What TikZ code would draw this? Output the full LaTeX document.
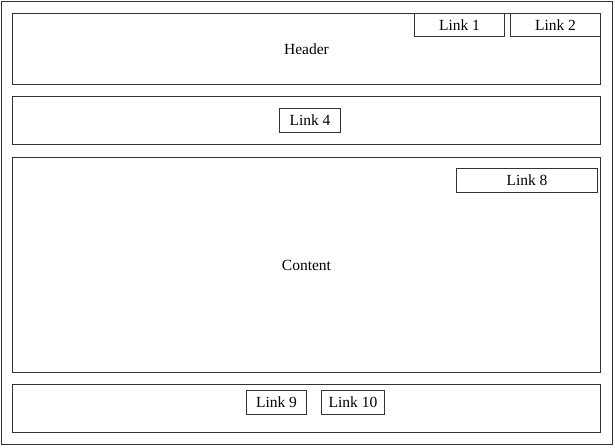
\documentclass[tikz,border=0pt]{standalone}
\usepackage{fontspec}
\setmainfont{Liberation Serif}
\begin{document}
\begin{tikzpicture}[x=1pt,y=-1pt,
  frame/.style={draw=black!80, line width=1pt, fill=white, anchor=north west,
    inner sep=0pt, font=\fontsize{15.5}{18}\selectfont, text=black}]
\useasboundingbox (0,0) rectangle (615,447);
\fill[white] (0,0) rectangle (615,447);

% page frame
\node[frame, minimum width=611pt, minimum height=443pt] (page) at (1,1) {};

% header band
\node[frame, minimum width=588pt, minimum height=71pt] (header) at (12,13) {Header};
\node[frame, minimum width=90pt, minimum height=23pt] (link1) at (414,13) {Link 1};
\node[frame, minimum width=90pt, minimum height=23pt] (link2) at (510,13) {Link 2};

% navigation band
\node[frame, minimum width=588pt, minimum height=48pt] (nav) at (12,96) {};
\node[frame, minimum width=61pt, minimum height=24pt] (link4) at (279,108) {Link 4};

% content area
\node[frame, minimum width=588pt, minimum height=215pt] (content) at (12,157) {Content};
\node[frame, minimum width=141pt, minimum height=24pt] (link8) at (456,168) {Link 8};

% footer band
\node[frame, minimum width=588pt, minimum height=48pt] (footer) at (12,384) {};
\node[frame, minimum width=60pt, minimum height=24pt] (link9) at (246,390) {Link 9};
\node[frame, minimum width=63pt, minimum height=24pt] (link10) at (321,390) {Link 10};
\end{tikzpicture}
\end{document}
